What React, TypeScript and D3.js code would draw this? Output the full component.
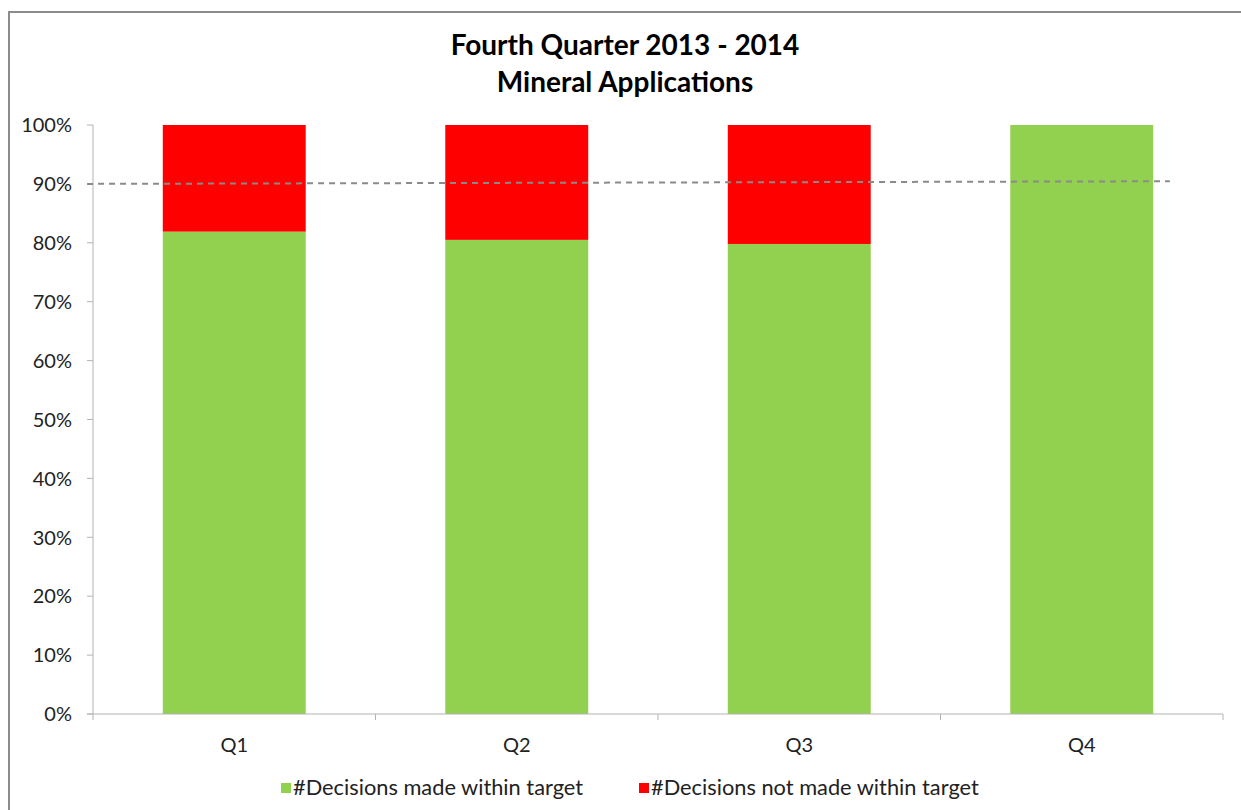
import * as d3 from "d3";

const categories = ["Q1", "Q2", "Q3", "Q4"];
const withinTarget = [81.9, 80.5, 79.8, 100];
const notWithinTarget = [18.1, 19.5, 20.2, 0];
const yTicks = [0, 10, 20, 30, 40, 50, 60, 70, 80, 90, 100];
// target line: [category position, value] at each end
const targetLine: [number, number][] = [
  [-0.521, 90],
  [3.312, 90.45],
];
const titleLines = ["Fourth Quarter 2013 - 2014", "Mineral Applications"];
const legendItems = [
  { label: "#Decisions made within target", color: "#92D050" },
  { label: "#Decisions not made within target", color: "#FF0000" },
];

const W = 1241;
const H = 810;
const margin = { left: 93, right: 18, top: 125, bottom: 96 };
const font = "Lato, 'Open Sans', sans-serif";

export default function App() {
  const x = d3
    .scaleBand()
    .domain(categories)
    .range([margin.left, W - margin.right])
    .paddingInner(0.494)
    .paddingOuter(0.247);
  const xPos = d3
    .scaleLinear()
    .domain([-0.5, categories.length - 0.5])
    .range([margin.left, W - margin.right]);
  const y = d3.scaleLinear().domain([0, 100]).range([H - margin.bottom, margin.top]);

  const stacked = d3
    .stack<number>()
    .keys(["within", "not"])
    .value((i, key) => (key === "within" ? withinTarget[i] : notWithinTarget[i]))(
    categories.map((_, i) => i)
  );
  const colors = ["#92D050", "#FF0000"];
  const line = d3
    .line<[number, number]>()
    .x((d) => xPos(d[0]))
    .y((d) => y(d[1]));

  const bandStep = (W - margin.right - margin.left) / categories.length;
  const axisY = y(0);

  return (
    <div style={{ position: "absolute", left: 0, top: 0 }}>
      <svg width={W} height={H} style={{ display: "block" }} fontFamily={font}>
        <rect x={0} y={0} width={W} height={H} fill="#fff" />
        <rect x={9} y={12} width={W + 10} height={H + 10} fill="none" stroke="#8c8c8c" strokeWidth={2} />

        {titleLines.map((t, i) => (
          <text key={t} x={625} y={55 + i * 37} textAnchor="middle" fontSize={28} fontWeight="bold" fill="#000">
            {t}
          </text>
        ))}

        {/* y axis */}
        <line x1={margin.left} x2={margin.left} y1={y(100)} y2={axisY} stroke="#b3b3b3" />
        {yTicks.map((t) => (
          <g key={t}>
            <line x1={margin.left - 6} x2={margin.left} y1={y(t)} y2={y(t)} stroke="#b3b3b3" />
            <text x={72} y={y(t)} dy="0.36em" textAnchor="end" fontSize={20} fill="#222">
              {t}%
            </text>
          </g>
        ))}

        {/* bars */}
        {stacked.map((s, si) => (
          <g key={s.key} fill={colors[si]}>
            {s.map((d, i) =>
              d[1] - d[0] > 0 ? (
                <rect
                  key={i}
                  x={x(categories[i])}
                  y={y(d[1])}
                  width={x.bandwidth()}
                  height={y(d[0]) - y(d[1])}
                />
              ) : null
            )}
          </g>
        ))}

        {/* x axis */}
        <line x1={margin.left - 6} x2={W - margin.right} y1={axisY} y2={axisY} stroke="#b3b3b3" />
        {d3.range(categories.length + 1).map((i) => (
          <line
            key={i}
            x1={margin.left + i * bandStep}
            x2={margin.left + i * bandStep}
            y1={axisY}
            y2={axisY + 6}
            stroke="#b3b3b3"
          />
        ))}
        {categories.map((c) => (
          <text key={c} x={x(c)! + x.bandwidth() / 2} y={752} textAnchor="middle" fontSize={20} fill="#222">
            {c}
          </text>
        ))}

        {/* target */}
        <path d={line(targetLine)!} fill="none" stroke="#8a8a8a" strokeWidth={2} strokeDasharray="6,5" />

        {/* legend */}
        {legendItems.map((l, i) => {
          const lx = [281, 639][i];
          return (
            <g key={l.label}>
              <rect x={lx} y={783} width={10} height={10} fill={l.color} />
              <text x={lx + 12} y={795} fontSize={21.8} fill="#222">
                {l.label}
              </text>
            </g>
          );
        })}
      </svg>
    </div>
  );
}
